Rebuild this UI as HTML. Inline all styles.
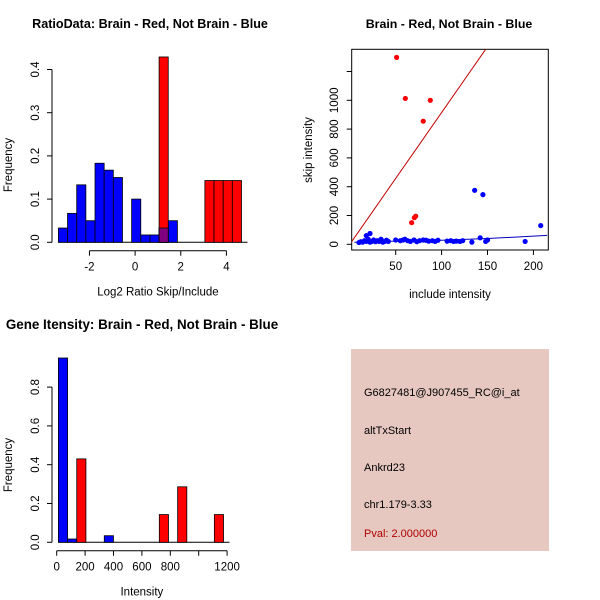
<!DOCTYPE html>
<html><head><meta charset="utf-8"><style>
body{margin:0;background:#fff}
svg{display:block;font-family:"Liberation Sans",sans-serif}
</style></head><body>
<svg id="c" width="600" height="600" xmlns="http://www.w3.org/2000/svg">
<rect width="600" height="600" fill="#fff"/>
<text x="150" y="28" font-size="12.6" font-weight="bold" text-anchor="middle">RatioData: Brain - Red, Not Brain - Blue</text>
<text x="449" y="28" font-size="12.4" font-weight="bold" text-anchor="middle">Brain - Red, Not Brain - Blue</text>
<text x="142" y="329" font-size="13.4" font-weight="bold" text-anchor="middle">Gene Itensity: Brain - Red, Not Brain - Blue</text>
<g id="p1"></g>
<g id="p2"></g>
<g id="p3"></g>
<g>
<rect x="351" y="349" width="198" height="202" fill="#E6C8C0"/>
<text x="364" y="396" font-size="11">G6827481@J907455_RC@i_at</text>
<text x="364" y="434" font-size="11">altTxStart</text>
<text x="364" y="471" font-size="11">Ankrd23</text>
<text x="364" y="508" font-size="11">chr1.179-3.33</text>
<text x="364" y="537" font-size="11" fill="#B00000">Pval: 2.000000</text>
</g>
</svg>
<script>
// Panel 1 data
const ratioStart = -3.36, ratioWidth = 0.401;
const ratioBlue = [0.033,0.067,0.133,0.05,0.183,0.167,0.15,0,0.1,0.017,0.017,0.033,0.05];
const ratioRed = [0,0,0,0,0,0,0,0,0,0,0,0.429,0,0,0,0,0.143,0.143,0.143,0.143];
const ratioXTicks = [-2,0,2,4];
const ratioYTicks = [0,0.1,0.2,0.3,0.4];
// Panel 2 data
const inclBlue = [10,12,14,16,18,18,20,22,22,24,26,28,30,32,34,36,38,40,42,50,55,58,60,63,66,70,73,76,80,83,86,90,93,96,106,110,113,116,120,123,133,136,142,145,148,150,191,208];
const skipBlue = [12,18,15,25,20,60,35,75,15,20,30,18,25,20,35,15,20,28,20,30,25,30,35,25,20,30,18,25,30,28,22,25,20,28,22,25,20,22,20,25,15,375,45,345,20,30,20,130];
const inclRed = [51,60.5,87.7,80,67.4,70.3,71.8];
const skipRed = [1298,1013,1000,855,150,185,195];
const lowessX = [5,50,100,150,215];
const lowessY = [14,22,28,40,62];
const diagSlope = [9.15];
const scXTicks = [50,100,150,200];
const scYTicks = [0,200,400,600,800,1000,1200];
const scYLabels = ["0","200","400","600","800","1000",""];
// Panel 3 data
const intStart = 12, intWidth = 64.6;
const intBlue = [0.95,0.017,0,0,0,0.034];
const intRed = [0,0,0.43,0,0,0,0,0,0,0,0,0.143,0,0.286,0,0,0,0.143];
const intXTicks = [0,200,400,600,800,1000,1200];
const intXLabels = ["0","200","400","600","800","","1200"];
const intYTicks = [0,0.2,0.4,0.6,0.8];

const NS="http://www.w3.org/2000/svg";
function mk(parent,tag,attrs,text){const e=document.createElementNS(NS,tag);for(const k in attrs)e.setAttribute(k,attrs[k]);if(text!==undefined)e.textContent=text;parent.appendChild(e);return e;}

function hist(g, xs, ys, start, width, blue, red, xTicks, xLabels, yTicks, axY, yLeft, xTitle, yTitleY){
  const l=mk(g,'line',{x1:xs(start),x2:xs(start+width*Math.max(blue.length,red.length))+6,y1:ys(0),y2:ys(0),stroke:'#000'});
  
  
  blue.forEach((v,i)=>{ if(v<=0) return;
    const r=mk(g,'rect',{x:xs(start+i*width),y:ys(v),width:xs(start+(i+1)*width)-xs(start+i*width),height:ys(0)-ys(v),fill:'#0000FF',stroke:'#000','stroke-width':0.8});
    
    
  });
  red.forEach((v,i)=>{ if(v<=0) return;
    const r=mk(g,'rect',{x:xs(start+i*width),y:ys(v),width:xs(start+(i+1)*width)-xs(start+i*width),height:ys(0)-ys(v),fill:'#FF0000',stroke:'#000','stroke-width':0.8});
    
    
    if(blue[i]>0){
      const o=mk(g,'rect',{x:xs(start+i*width),y:ys(blue[i]),width:xs(start+(i+1)*width)-xs(start+i*width),height:ys(0)-ys(blue[i]),fill:'#800080',stroke:'#000','stroke-width':0.8});
      
      
    }
  });
  const xa=mk(g,'line',{x1:xs(xTicks[0]),x2:xs(xTicks[xTicks.length-1]),y1:axY,y2:axY,stroke:'#000'});
  
  
  xTicks.forEach((t,i)=>{
    mk(g,'line',{x1:xs(t),x2:xs(t),y1:axY,y2:axY+5,stroke:'#000'});
    const tx=mk(g,'text',{x:xs(t),y:axY+20,'font-size':11.5,'text-anchor':'middle'},xLabels[i]);
    
    
  });
  const xt=mk(g,'text',{x:(xs(xTicks[0])+xs(xTicks[xTicks.length-1]))/2,y:axY+45,'font-size':11.5,'text-anchor':'middle'},xTitle);
  
  
  const ya=mk(g,'line',{x1:yLeft,x2:yLeft,y1:ys(yTicks[0]),y2:ys(yTicks[yTicks.length-1]),stroke:'#000'});
  
  
  yTicks.forEach(t=>{
    mk(g,'line',{x1:yLeft-5,x2:yLeft,y1:ys(t),y2:ys(t),stroke:'#000'});
    const tx=mk(g,'text',{x:yLeft-13,y:ys(t),'font-size':11.5,'text-anchor':'middle',transform:`rotate(-90 ${yLeft-13} ${ys(t)})`},t.toFixed(1));
    
    
  });
  const yt=mk(g,'text',{x:12,y:yTitleY,'font-size':11.5,'text-anchor':'middle',transform:`rotate(-90 12 ${yTitleY})`},'Frequency');
  
  
}

{
  const g=document.getElementById('p1');
  const xs=v=>135.1+v*22.83;
  const ys=v=>242.3-v*432;
  hist(g,xs,ys,ratioStart,ratioWidth,ratioBlue,ratioRed,ratioXTicks,ratioXTicks.map(String),ratioYTicks,250.7,52,'Log2 Ratio Skip/Include',165);
}
{
  const g=document.getElementById('p3');
  const xs=v=>56.7+v*0.142;
  const ys=v=>542.3-v*194;
  hist(g,xs,ys,intStart,intWidth,intBlue,intRed,intXTicks,intXLabels,intYTicks,550.7,52,'Intensity',465);
}
{
  const g=document.getElementById('p2');
  const xs=v=>349.8+v*0.918;
  const ys=v=>244.3-v*0.144;
  const box=mk(g,'rect',{x:351.7,y:49.3,width:196.6,height:200.7,fill:'none',stroke:'#000'});
  
  
  const cp=mk(g,'clipPath',{id:'clip2'});
  mk(cp,'rect',{x:351.7,y:49.3,width:196.6,height:200.7});
  const inner=mk(g,'g',{'clip-path':'url(#clip2)'});
  const dl=mk(inner,'line',{x1:xs(0),y1:ys(0),x2:xs(250),y2:ys(250*diagSlope[0]),stroke:'#C00000'});
  
  
  const lw=mk(inner,'polyline',{points:lowessX.map((x,i)=>xs(x)+','+ys(lowessY[i])).join(' '),fill:'none',stroke:'#0000C0'});
  
  
  inclBlue.forEach((x,i)=>{
    const c=mk(inner,'circle',{cx:xs(x),cy:ys(skipBlue[i]),r:2.6,fill:'#0000FF'});
    
    
  });
  inclRed.forEach((x,i)=>{
    const c=mk(inner,'circle',{cx:xs(x),cy:ys(skipRed[i]),r:2.6,fill:'#FF0000'});
    
    
  });
  scXTicks.forEach(t=>{
    mk(g,'line',{x1:xs(t),x2:xs(t),y1:250,y2:255,stroke:'#000'});
    const tx=mk(g,'text',{x:xs(t),y:270,'font-size':11.5,'text-anchor':'middle'},String(t));
    
    
  });
  scYTicks.forEach((t,i)=>{
    mk(g,'line',{x1:346.7,x2:351.7,y1:ys(t),y2:ys(t),stroke:'#000'});
    const tx=mk(g,'text',{x:338,y:ys(t),'font-size':11.5,'text-anchor':'middle',transform:`rotate(-90 338 ${ys(t)})`},scYLabels[i]);
    
    
  });
  const xt=mk(g,'text',{x:450,y:298,'font-size':11.5,'text-anchor':'middle'},'include intensity');
  
  
  const yt=mk(g,'text',{x:312,y:150,'font-size':11.5,'text-anchor':'middle',transform:'rotate(-90 312 150)'},'skip intensity');
  
  
}
</script>
</body></html>
